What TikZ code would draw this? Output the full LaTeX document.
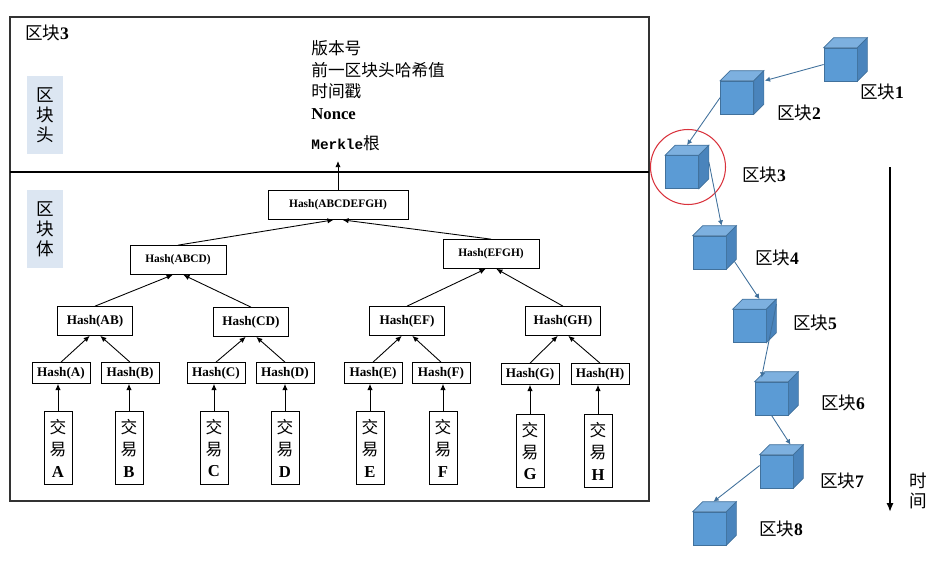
\documentclass[tikz,border=0pt]{standalone}
\usepackage{fontspec}
\setmainfont{Liberation Serif}
\setmonofont{Liberation Mono}
\newfontfamily\cjk{Noto Sans CJK SC}
\usetikzlibrary{arrows.meta}
\definecolor{cubefront}{HTML}{5B9BD5}
\definecolor{cubetop}{HTML}{7DB0DF}
\definecolor{cubeside}{HTML}{4A84BC}
\definecolor{cubeedge}{HTML}{41719C}
\definecolor{tagfill}{HTML}{DCE6F2}
\definecolor{ringred}{HTML}{D9323C}
\begin{document}
\begin{tikzpicture}[x=0.02cm, y=-0.02cm,
        hsmall/.style = {draw, minimum width=1.16cm, minimum height=0.42cm, inner sep=0pt, font=\fontsize{7.5}{9}\selectfont\bfseries},
        hmid/.style = {draw, minimum width=1.5cm, minimum height=0.58cm, inner sep=0pt, font=\fontsize{7.5}{9}\selectfont\bfseries},
        hbig/.style = {draw, minimum height=0.58cm, inner sep=0pt, font=\fontsize{6.5}{8}\selectfont\bfseries},
        tx/.style = {draw, minimum width=0.56cm, minimum height=1.46cm, inner sep=0pt, align=center, font=\cjk\fontsize{9.5}{12.5}\selectfont},
        tag/.style = {fill=tagfill, minimum width=0.72cm, minimum height=1.56cm, inner sep=0pt, align=center, font=\cjk\fontsize{10}{11.3}\selectfont},
        cube/.style = {draw=cubeedge, fill=cubefront, minimum size=0.66cm, inner sep=0pt, line width=0.4pt},
        blk/.style = {font=\cjk\fontsize{10}{12}\selectfont},
        link/.style = {-{Latex[length=3.5pt,width=3pt]}, line width=0.5pt},
        chain/.style = {-{Latex[length=3pt,width=3pt]}, cubeedge, line width=0.5pt}]
    \useasboundingbox (0,0) rectangle (945,561);

    % block 3 frame
    \draw[line width=0.9pt, black!80] (10,17) rectangle (649,501);
    \draw[line width=0.7pt] (10,172) -- (649,172);
    \node[blk] (title) at (47,33) {区块\textbf{\rmfamily 3}};
    \node[tag] (head) at (45,115) {区\\块\\头};
    \node[tag] (body) at (45,229) {区\\块\\体};

    % header fields
    \node[anchor=west, align=left, inner sep=0pt, font=\cjk\fontsize{9.5}{12.3}\selectfont] (fields) at (311,80)
        {版本号\\前一区块头哈希值\\时间戳\\{\rmfamily\bfseries Nonce}};
    \node[anchor=west, inner sep=0pt, font=\cjk\fontsize{9.5}{12}\selectfont] (merkle) at (311,143)
        {{\ttfamily\bfseries\fontsize{8.2}{10}\selectfont Merkle}根};

    % merkle tree
    \node[hbig, minimum width=2.8cm] (root) at (338,205) {Hash(ABCDEFGH)};
    \node[hbig, minimum width=1.92cm] (abcd) at (178,260) {Hash(ABCD)};
    \node[hbig, minimum width=1.92cm] (efgh) at (491,254) {Hash(EFGH)};
    \node[hmid] (ab) at (95,321) {Hash(AB)};
    \node[hmid] (cd) at (251,322) {Hash(CD)};
    \node[hmid] (ef) at (407,321) {Hash(EF)};
    \node[hmid] (gh) at (563,321) {Hash(GH)};
    \node[hsmall] (ha) at (61,373) {Hash(A)};
    \node[hsmall] (hb) at (130,373) {Hash(B)};
    \node[hsmall] (hc) at (216,373) {Hash(C)};
    \node[hsmall] (hd) at (285,373) {Hash(D)};
    \node[hsmall] (he) at (373,373) {Hash(E)};
    \node[hsmall] (hf) at (441,373) {Hash(F)};
    \node[hsmall] (hg) at (530,374) {Hash(G)};
    \node[hsmall] (hh) at (600,374) {Hash(H)};
    \node[tx] (ta) at (58,448) {交\\易\\{\rmfamily\bfseries A}};
    \node[tx] (tb) at (129,448) {交\\易\\{\rmfamily\bfseries B}};
    \node[tx] (tc) at (214,448) {交\\易\\{\rmfamily\bfseries C}};
    \node[tx] (td) at (285,448) {交\\易\\{\rmfamily\bfseries D}};
    \node[tx] (te) at (370,448) {交\\易\\{\rmfamily\bfseries E}};
    \node[tx] (tf) at (443,448) {交\\易\\{\rmfamily\bfseries F}};
    \node[tx] (tg) at (530,451) {交\\易\\{\rmfamily\bfseries G}};
    \node[tx] (th) at (598,451) {交\\易\\{\rmfamily\bfseries H}};

    \draw[link, shorten >=2mm] (root.north) -- (root.north |- merkle.south);
    \draw[link] (abcd.north) -- ([xshift=-2.5pt]root.south);
    \draw[link] (efgh.north) -- ([xshift=2.5pt]root.south);
    \foreach \l/\r/\p in {ab/cd/abcd, ef/gh/efgh, ha/hb/ab, hc/hd/cd, he/hf/ef, hg/hh/gh} {
        \draw[link] (\l.north) -- ([xshift=-3pt]\p.south);
        \draw[link] (\r.north) -- ([xshift=3pt]\p.south);
    }
    \foreach \t/\h in {ta/ha, tb/hb, tc/hc, td/hd, te/he, tf/hf, tg/hg, th/hh}
        \draw[link] (\t) -- (\t |- \h.south);

    % chain of blocks
    \node[cube] (k1) at (840.5,64.5) {};
    \node[cube] (k2) at (737,97.5) {};
    \node[cube] (k3) at (682,172) {};
    \node[cube] (k4) at (709.5,252.5) {};
    \node[cube] (k5) at (749.5,326) {};
    \node[cube] (k6) at (771.5,398.5) {};
    \node[cube] (k7) at (776.5,471.5) {};
    \node[cube] (k8) at (709.5,528.5) {};
    \foreach \i in {1,...,8} {
        \filldraw[fill=cubetop, draw=cubeedge, line width=0.4pt] (k\i.north west) -- ++(10,-10)
            -- ([shift={(10,-10)}]k\i.north east) -- (k\i.north east) -- cycle;
        \filldraw[fill=cubeside, draw=cubeedge, line width=0.4pt] (k\i.north east) -- ++(10,-10)
            -- ([shift={(10,-10)}]k\i.south east) -- (k\i.south east) -- cycle;
    }
    \node[blk] (n1) at (882,92) {区块\textbf{\rmfamily 1}};
    \node[blk] (n2) at (799,113) {区块\textbf{\rmfamily 2}};
    \node[blk] (n3) at (764,175) {区块\textbf{\rmfamily 3}};
    \node[blk] (n4) at (777,258) {区块\textbf{\rmfamily 4}};
    \node[blk] (n5) at (815,323) {区块\textbf{\rmfamily 5}};
    \node[blk] (n6) at (843,403) {区块\textbf{\rmfamily 6}};
    \node[blk] (n7) at (842,481) {区块\textbf{\rmfamily 7}};
    \node[blk] (n8) at (781,529) {区块\textbf{\rmfamily 8}};
    \node[draw=ringred, circle, minimum size=1.5cm, line width=0.6pt] (ring) at (688,167) {};

    \draw[chain] (k1.west) -- ([shift={(11,0)}]k2.north east);
    \draw[chain] (k2.west) -- ([shift={(5,-10)}]k3.north);
    \draw[chain] ([shift={(10,-10)}]k3.east) -- ([shift={(12,-10)}]k4.north);
    \draw[chain] ([shift={(8,-8)}]k4.south east) -- ([shift={(10,-10)}]k5.north);
    \draw[chain] ([shift={(10,-5)}]k5.north east) -- ([shift={(-10,-4)}]k6.north);
    \draw[chain] (k6.south) -- ([shift={(14,-10)}]k7.north);
    \draw[chain] ([shift={(0,-6)}]k7.west) -- ([shift={(4,-10)}]k8.north);

    % time axis
    \coordinate (t0) at (890,167);
    \coordinate (t1) at (890,512);
    \draw[-{Latex[length=5pt,width=4pt]}, line width=1.1pt] (t0) -- (t1);
    \node[align=center, font=\cjk\fontsize{10}{11.5}\selectfont] (time) at (918,491) {时\\间};
\end{tikzpicture}
\end{document}
